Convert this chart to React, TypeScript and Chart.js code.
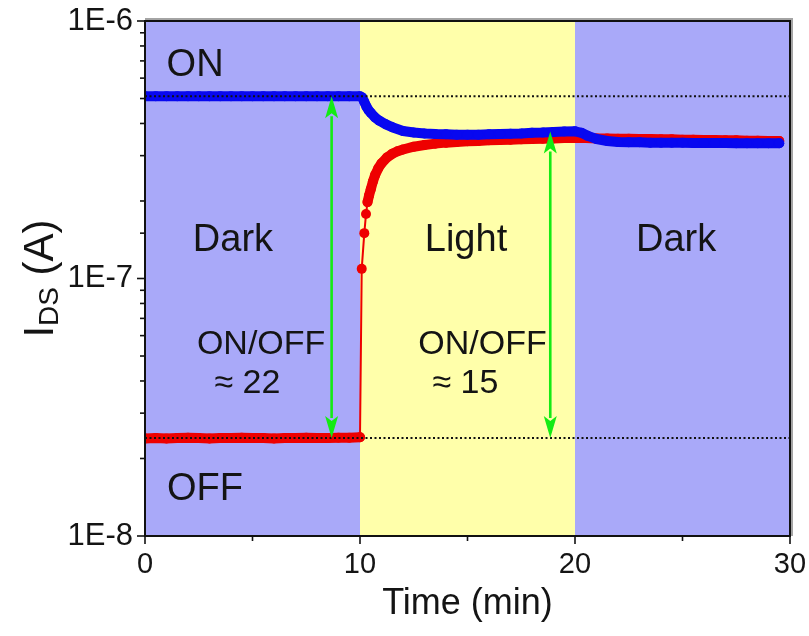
import React, { useEffect, useRef } from 'react';
import { Chart, registerables } from 'chart.js';

Chart.register(...registerables);

// ---- data ----
const ON_LEVEL = 5.1e-7;
const OFF_LEVEL = 2.4e-8;

const blueTime = [
  0, 0.5, 1, 1.5, 2, 2.5, 3, 3.5, 4, 4.5, 5, 5.5, 6, 6.5, 7, 7.5, 8, 8.5, 9, 9.5, 10,
  10.1, 10.2, 10.3, 10.4, 10.5, 10.7, 10.9, 11.2, 11.5, 12, 12.5, 13, 13.5, 14, 14.5, 15,
  15.5, 16, 16.5, 17, 17.5, 18, 18.5, 19, 19.5, 20, 20.3, 20.6, 21, 21.5, 22, 22.5, 23,
  23.5, 24, 24.5, 25, 25.5, 26, 26.5, 27, 27.5, 28, 28.5, 29, 29.5,
];
const blueCurrent = [
  5.1e-7, 5.1e-7, 5.1e-7, 5.1e-7, 5.1e-7, 5.1e-7, 5.1e-7, 5.1e-7, 5.1e-7, 5.1e-7, 5.1e-7,
  5.1e-7, 5.1e-7, 5.1e-7, 5.1e-7, 5.1e-7, 5.1e-7, 5.1e-7, 5.1e-7, 5.1e-7, 5.1e-7,
  5.05e-7, 4.85e-7, 4.65e-7, 4.5e-7, 4.4e-7, 4.22e-7, 4.1e-7, 3.97e-7, 3.87e-7, 3.74e-7,
  3.69e-7, 3.66e-7, 3.64e-7, 3.63e-7, 3.62e-7, 3.62e-7, 3.62e-7, 3.63e-7, 3.64e-7, 3.65e-7,
  3.66e-7, 3.68e-7, 3.69e-7, 3.71e-7, 3.72e-7, 3.73e-7, 3.68e-7, 3.58e-7, 3.48e-7, 3.42e-7,
  3.39e-7, 3.38e-7, 3.38e-7, 3.37e-7, 3.37e-7, 3.37e-7, 3.37e-7, 3.36e-7, 3.36e-7, 3.36e-7,
  3.36e-7, 3.35e-7, 3.35e-7, 3.35e-7, 3.35e-7, 3.35e-7,
];

const redTime = [
  0, 0.5, 1, 1.5, 2, 2.5, 3, 3.5, 4, 4.5, 5, 5.5, 6, 6.5, 7, 7.5, 8, 8.5, 9, 9.5, 10,
  10.08, 10.2, 10.28, 10.35, 10.42, 10.5, 10.6, 10.7, 10.85, 11, 11.25, 11.5, 11.75, 12,
  12.5, 13, 13.5, 14, 14.5, 15, 15.5, 16, 16.5, 17, 17.5, 18, 18.5, 19, 19.5, 20, 20.5, 21,
  21.5, 22, 22.5, 23, 23.5, 24, 24.5, 25, 25.5, 26, 26.5, 27, 27.5, 28, 28.5, 29, 29.5,
];
const redCurrent = [
  2.39e-8, 2.4e-8, 2.39e-8, 2.4e-8, 2.41e-8, 2.4e-8, 2.39e-8, 2.4e-8, 2.4e-8, 2.41e-8, 2.4e-8,
  2.4e-8, 2.39e-8, 2.4e-8, 2.4e-8, 2.41e-8, 2.4e-8, 2.4e-8, 2.41e-8, 2.41e-8, 2.42e-8,
  1.09e-7, 1.5e-7, 1.78e-7, 1.98e-7, 2.1e-7, 2.22e-7, 2.38e-7, 2.52e-7, 2.68e-7, 2.8e-7,
  2.95e-7, 3.05e-7, 3.12e-7, 3.17e-7, 3.25e-7, 3.3e-7, 3.34e-7, 3.37e-7, 3.39e-7, 3.41e-7,
  3.42e-7, 3.44e-7, 3.45e-7, 3.46e-7, 3.47e-7, 3.48e-7, 3.49e-7, 3.5e-7, 3.51e-7, 3.52e-7,
  3.51e-7, 3.5e-7, 3.5e-7, 3.49e-7, 3.49e-7, 3.48e-7, 3.48e-7, 3.47e-7, 3.47e-7, 3.46e-7,
  3.46e-7, 3.45e-7, 3.45e-7, 3.44e-7, 3.44e-7, 3.43e-7, 3.43e-7, 3.42e-7, 3.42e-7,
];

const X_MIN = 0;
const X_MAX = 30;
const X_STEP = 5;
const X_LABELED = [0, 10, 20, 30];
const Y_MIN = 1e-8;
const Y_MAX = 1e-6;
const Y_TICK_LABELS = ['1E-8', '1E-7', '1E-6'];

const REGION_EDGES = [0, 10, 20, 30];
const REGION_KINDS = ['dark', 'light', 'dark'];

const ARROW_TIMES = [8.68, 18.85];
const ARROW_TOPS = [ON_LEVEL, 3.72e-7];
const ARROW_BOTTOMS = [OFF_LEVEL, OFF_LEVEL];

const LABEL_TEXTS = ['ON', 'OFF', 'Dark', 'Light', 'Dark', 'ON/OFF', '≈ 22', 'ON/OFF', '≈ 15'];
const LABEL_TIMES = [2.33, 2.79, 4.09, 14.93, 24.7, 5.4, 4.76, 15.7, 14.9];
const LABEL_VALUES = [6.69e-7, 1.52e-8, 1.4e-7, 1.4e-7, 1.4e-7, 5.52e-8, 3.89e-8, 5.52e-8, 3.89e-8];
const LABEL_SIZES = [38, 38, 38, 38, 38, 34, 34, 34, 34];

// ---- styles ----
const FONT = '"Liberation Sans", Arial, Helvetica, sans-serif';
const DARK_BG = 'rgb(169,169,249)';
const LIGHT_BG = 'rgb(255,255,170)';
const RED = 'rgb(238,0,0)';
const BLUE = 'rgb(8,8,240)';
const GREEN = 'rgb(20,235,20)';
const TEXT = '#141414';

const toXY = (ts: number[], vs: number[]) => ts.map((t, i) => ({ x: t, y: vs[i] }));

const isDecade = (v: number) => {
  const e = Math.log10(v);
  return Math.abs(e - Math.round(e)) < 1e-6;
};

const decoPlugin = {
  id: 'deco',
  beforeDatasetsDraw(chart: any) {
    const { ctx, chartArea, scales } = chart;
    const xs = scales.x;
    ctx.save();
    for (let i = 0; i < REGION_KINDS.length; i++) {
      const x0 = xs.getPixelForValue(REGION_EDGES[i]);
      const x1 = xs.getPixelForValue(REGION_EDGES[i + 1]);
      ctx.fillStyle = REGION_KINDS[i] === 'dark' ? DARK_BG : LIGHT_BG;
      ctx.fillRect(x0, chartArea.top, x1 - x0, chartArea.bottom - chartArea.top);
    }
    ctx.fillStyle = TEXT;
    ctx.textAlign = 'center';
    ctx.textBaseline = 'middle';
    for (let i = 0; i < LABEL_TEXTS.length; i++) {
      ctx.font = `${LABEL_SIZES[i]}px ${FONT}`;
      ctx.fillText(
        LABEL_TEXTS[i],
        xs.getPixelForValue(LABEL_TIMES[i]),
        scales.y.getPixelForValue(LABEL_VALUES[i])
      );
    }
    ctx.restore();
  },
  afterDatasetsDraw(chart: any) {
    const { ctx, scales } = chart;
    const xs = scales.x;
    const ys = scales.y;
    ctx.save();
    ctx.strokeStyle = GREEN;
    ctx.fillStyle = GREEN;
    ctx.lineWidth = 2.6;
    const headLen = 22;
    const headHalf = 6.5;
    for (let i = 0; i < ARROW_TIMES.length; i++) {
      const x = xs.getPixelForValue(ARROW_TIMES[i]);
      const yt = ys.getPixelForValue(ARROW_TOPS[i]);
      const yb = ys.getPixelForValue(ARROW_BOTTOMS[i]);
      ctx.beginPath();
      ctx.moveTo(x, yt + headLen - 2);
      ctx.lineTo(x, yb - headLen + 2);
      ctx.stroke();
      ctx.beginPath();
      ctx.moveTo(x, yt);
      ctx.lineTo(x - headHalf, yt + headLen);
      ctx.lineTo(x, yt + headLen - 5);
      ctx.lineTo(x + headHalf, yt + headLen);
      ctx.closePath();
      ctx.fill();
      ctx.beginPath();
      ctx.moveTo(x, yb);
      ctx.lineTo(x - headHalf, yb - headLen);
      ctx.lineTo(x, yb - headLen + 5);
      ctx.lineTo(x + headHalf, yb - headLen);
      ctx.closePath();
      ctx.fill();
    }
    ctx.restore();
  },
  afterDraw(chart: any) {
    const { ctx, chartArea, scales } = chart;
    const { left, right, top, bottom } = chartArea;
    ctx.save();
    ctx.strokeStyle = 'rgba(90,90,90,0.55)';
    ctx.lineWidth = 2;
    ctx.beginPath();
    ctx.moveTo(left, top - 2);
    ctx.lineTo(right + 2, top - 2);
    ctx.lineTo(right + 2, bottom);
    ctx.stroke();
    ctx.strokeStyle = '#111';
    ctx.lineWidth = 2;
    ctx.strokeRect(left, top, right - left, bottom - top);
    ctx.lineWidth = 1.6;
    scales.y.ticks.forEach((t: any) => {
      const y = scales.y.getPixelForValue(t.value);
      const len = isDecade(t.value) ? 8 : 5;
      ctx.beginPath();
      ctx.moveTo(left, y);
      ctx.lineTo(left - len, y);
      ctx.stroke();
    });
    scales.x.ticks.forEach((t: any) => {
      const x = scales.x.getPixelForValue(t.value);
      const len = t.value % 10 === 0 ? 8 : 5;
      ctx.beginPath();
      ctx.moveTo(x, bottom);
      ctx.lineTo(x, bottom + len);
      ctx.stroke();
    });
    ctx.fillStyle = TEXT;
    ctx.textBaseline = 'middle';
    ctx.textAlign = 'center';
    ctx.font = `36px ${FONT}`;
    ctx.fillText('Time (min)', (left + right) / 2, bottom + 68);

    ctx.translate(left - 104, (top + bottom) / 2);
    ctx.rotate(-Math.PI / 2);
    ctx.textAlign = 'left';
    const bigFont = `42px ${FONT}`;
    const subFont = `28px ${FONT}`;
    ctx.font = bigFont;
    const wI = ctx.measureText('I').width;
    const wA = ctx.measureText(' (A)').width;
    ctx.font = subFont;
    const wS = ctx.measureText('DS').width;
    let x0 = -(wI + wS + wA) / 2;
    ctx.font = bigFont;
    ctx.fillText('I', x0, 0);
    x0 += wI;
    ctx.font = subFont;
    ctx.fillText('DS', x0, 9);
    x0 += wS;
    ctx.font = bigFont;
    ctx.fillText(' (A)', x0, 0);
    ctx.restore();
  },
};

export default function App() {
  const ref = useRef<HTMLCanvasElement | null>(null);

  useEffect(() => {
    document.body.style.margin = '0';
    if (!ref.current) return;
    const thickSeg = (ctx: any) => (Math.abs(ctx.p1.y - ctx.p0.y) > 10 ? 2 : 10);
    const chart = new Chart(ref.current, {
      type: 'line',
      data: {
        datasets: [
          {
            label: 'ON level',
            data: toXY([X_MIN, X_MAX], [ON_LEVEL, ON_LEVEL]),
            borderColor: '#111',
            borderWidth: 2,
            borderDash: [2, 2.5],
            pointRadius: 0,
          },
          {
            label: 'OFF level',
            data: toXY([X_MIN, X_MAX], [OFF_LEVEL, OFF_LEVEL]),
            borderColor: '#111',
            borderWidth: 2,
            borderDash: [2, 2.5],
            pointRadius: 0,
          },
          {
            label: 'ON',
            data: toXY(blueTime, blueCurrent),
            borderColor: BLUE,
            backgroundColor: BLUE,
            borderWidth: 10,
            borderCapStyle: 'round',
            borderJoinStyle: 'round',
            pointRadius: 5,
            pointBorderWidth: 0,
            segment: { borderWidth: thickSeg },
          },
          {
            label: 'OFF',
            data: toXY(redTime, redCurrent),
            borderColor: RED,
            backgroundColor: RED,
            borderWidth: 10,
            borderCapStyle: 'round',
            borderJoinStyle: 'round',
            pointRadius: 5,
            pointBorderWidth: 0,
            segment: { borderWidth: thickSeg },
          },
        ],
      },
      options: {
        animation: false,
        responsive: false,
        maintainAspectRatio: false,
        layout: { padding: { top: 21, right: 19, left: 0, bottom: 0 } },
        plugins: { legend: { display: false }, tooltip: { enabled: false } },
        scales: {
          x: {
            type: 'linear',
            min: X_MIN,
            max: X_MAX,
            grid: { display: false, drawTicks: true, tickLength: 8 },
            border: { display: false },
            ticks: {
              stepSize: X_STEP,
              autoSkip: false,
              maxRotation: 0,
              padding: 4,
              color: TEXT,
              font: { family: FONT, size: 29 },
              callback: (v: any) => (X_LABELED.includes(Number(v)) ? String(v) : ''),
            },
            afterFit: (s: any) => {
              s.height = 100;
              s.paddingLeft = 0;
              s.paddingRight = 0;
            },
          },
          y: {
            type: 'logarithmic',
            min: Y_MIN,
            max: Y_MAX,
            grid: { display: false, drawTicks: true, tickLength: 8 },
            border: { display: false },
            ticks: {
              autoSkip: false,
              padding: 4,
              color: TEXT,
              font: { family: FONT, size: 31 },
              callback: (v: any) => {
                const n = Number(v);
                if (!isDecade(n)) return '';
                const e = Math.round(Math.log10(n));
                return Y_TICK_LABELS[e + 8] ?? '';
              },
            },
            afterFit: (s: any) => {
              s.width = 145;
              s.paddingTop = 0;
              s.paddingBottom = 0;
            },
          },
        },
      },
      plugins: [decoPlugin],
    } as any);
    return () => chart.destroy();
  }, []);

  return (
    <div style={{ width: 809, height: 636, background: '#fff' }}>
      <canvas ref={ref} width={809} height={636} style={{ display: 'block' }} />
    </div>
  );
}
